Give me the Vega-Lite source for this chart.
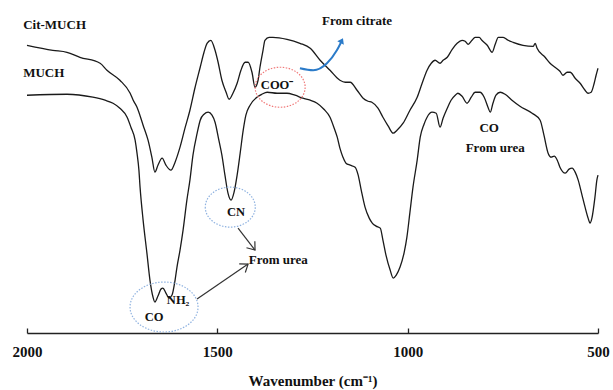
{
  "$schema": "https://vega.github.io/schema/vega-lite/v6.json",
  "width": 571,
  "height": 333,
  "autosize": {"type": "none"},
  "padding": {"left": 27, "top": 0, "right": 15, "bottom": 57},
  "background": "white",
  "config": {
    "view": {"stroke": null},
    "axisX": {
      "domainColor": "#222", "domainWidth": 1.3, "tickColor": "#222", "tickWidth": 1.3, "tickSize": -5,
      "grid": false, "labelFont": "Liberation Serif", "labelFontWeight": "bold", "labelFontSize": 15,
      "labelColor": "#111", "labelPadding": 16, "labelFlush": false,
      "titleFont": "Liberation Serif", "titleFontWeight": "bold", "titleFontSize": 15, "titleColor": "#111", "titlePadding": 14
    }
  },
  "datasets": {
    "spectra": [
      {"s":"Cit-MUCH","wn":2000,"T":86.4},{"s":"Cit-MUCH","wn":1932,"T":84.9},{"s":"Cit-MUCH","wn":1895,"T":84.3},{"s":"Cit-MUCH","wn":1861,"T":82.8},{"s":"Cit-MUCH","wn":1808,"T":81.0},{"s":"Cit-MUCH","wn":1790,"T":78.9},{"s":"Cit-MUCH","wn":1756,"T":75.9},{"s":"Cit-MUCH","wn":1729,"T":72.0},{"s":"Cit-MUCH","wn":1721,"T":69.9},{"s":"Cit-MUCH","wn":1711,"T":67.8},{"s":"Cit-MUCH","wn":1695,"T":62.4},{"s":"Cit-MUCH","wn":1682,"T":57.9},{"s":"Cit-MUCH","wn":1672,"T":52.8},{"s":"Cit-MUCH","wn":1664,"T":48.3},{"s":"Cit-MUCH","wn":1656,"T":50.4},{"s":"Cit-MUCH","wn":1645,"T":52.5},{"s":"Cit-MUCH","wn":1635,"T":50.4},{"s":"Cit-MUCH","wn":1622,"T":48.9},{"s":"Cit-MUCH","wn":1611,"T":51.3},{"s":"Cit-MUCH","wn":1598,"T":55.8},{"s":"Cit-MUCH","wn":1585,"T":61.5},{"s":"Cit-MUCH","wn":1572,"T":66.9},{"s":"Cit-MUCH","wn":1559,"T":73.5},{"s":"Cit-MUCH","wn":1545,"T":79.8},{"s":"Cit-MUCH","wn":1535,"T":84.3},{"s":"Cit-MUCH","wn":1527,"T":87.0},{"s":"Cit-MUCH","wn":1517,"T":87.9},{"s":"Cit-MUCH","wn":1506,"T":84.9},{"s":"Cit-MUCH","wn":1498,"T":81.3},{"s":"Cit-MUCH","wn":1488,"T":75.9},{"s":"Cit-MUCH","wn":1477,"T":72.3},{"s":"Cit-MUCH","wn":1469,"T":70.2},{"s":"Cit-MUCH","wn":1459,"T":72.0},{"s":"Cit-MUCH","wn":1448,"T":75.0},{"s":"Cit-MUCH","wn":1438,"T":78.9},{"s":"Cit-MUCH","wn":1427,"T":81.3},{"s":"Cit-MUCH","wn":1419,"T":81.3},{"s":"Cit-MUCH","wn":1409,"T":78.3},{"s":"Cit-MUCH","wn":1401,"T":73.8},{"s":"Cit-MUCH","wn":1393,"T":75.9},{"s":"Cit-MUCH","wn":1388,"T":79.8},{"s":"Cit-MUCH","wn":1380,"T":84.9},{"s":"Cit-MUCH","wn":1375,"T":87.9},{"s":"Cit-MUCH","wn":1364,"T":88.8},{"s":"Cit-MUCH","wn":1354,"T":88.8},{"s":"Cit-MUCH","wn":1317,"T":88.2},{"s":"Cit-MUCH","wn":1283,"T":87.0},{"s":"Cit-MUCH","wn":1256,"T":85.5},{"s":"Cit-MUCH","wn":1230,"T":81.9},{"s":"Cit-MUCH","wn":1204,"T":78.9},{"s":"Cit-MUCH","wn":1178,"T":75.9},{"s":"Cit-MUCH","wn":1164,"T":75.3},{"s":"Cit-MUCH","wn":1151,"T":75.3},{"s":"Cit-MUCH","wn":1133,"T":72.9},{"s":"Cit-MUCH","wn":1117,"T":70.5},{"s":"Cit-MUCH","wn":1104,"T":69.6},{"s":"Cit-MUCH","wn":1094,"T":69.3},{"s":"Cit-MUCH","wn":1078,"T":67.5},{"s":"Cit-MUCH","wn":1065,"T":64.8},{"s":"Cit-MUCH","wn":1051,"T":62.1},{"s":"Cit-MUCH","wn":1038,"T":60.0},{"s":"Cit-MUCH","wn":1028,"T":60.9},{"s":"Cit-MUCH","wn":1012,"T":63.0},{"s":"Cit-MUCH","wn":994,"T":66.9},{"s":"Cit-MUCH","wn":975,"T":70.8},{"s":"Cit-MUCH","wn":962,"T":75.0},{"s":"Cit-MUCH","wn":949,"T":78.9},{"s":"Cit-MUCH","wn":938,"T":81.0},{"s":"Cit-MUCH","wn":928,"T":81.9},{"s":"Cit-MUCH","wn":915,"T":81.0},{"s":"Cit-MUCH","wn":907,"T":81.9},{"s":"Cit-MUCH","wn":896,"T":82.8},{"s":"Cit-MUCH","wn":883,"T":85.2},{"s":"Cit-MUCH","wn":870,"T":87.0},{"s":"Cit-MUCH","wn":857,"T":87.9},{"s":"Cit-MUCH","wn":849,"T":87.6},{"s":"Cit-MUCH","wn":841,"T":86.7},{"s":"Cit-MUCH","wn":831,"T":87.9},{"s":"Cit-MUCH","wn":823,"T":88.8},{"s":"Cit-MUCH","wn":812,"T":88.8},{"s":"Cit-MUCH","wn":805,"T":87.9},{"s":"Cit-MUCH","wn":791,"T":86.4},{"s":"Cit-MUCH","wn":778,"T":84.3},{"s":"Cit-MUCH","wn":770,"T":86.7},{"s":"Cit-MUCH","wn":762,"T":88.8},{"s":"Cit-MUCH","wn":749,"T":88.8},{"s":"Cit-MUCH","wn":736,"T":87.9},{"s":"Cit-MUCH","wn":723,"T":87.3},{"s":"Cit-MUCH","wn":697,"T":86.4},{"s":"Cit-MUCH","wn":670,"T":86.1},{"s":"Cit-MUCH","wn":665,"T":87.0},{"s":"Cit-MUCH","wn":660,"T":85.5},{"s":"Cit-MUCH","wn":639,"T":82.8},{"s":"Cit-MUCH","wn":626,"T":81.0},{"s":"Cit-MUCH","wn":613,"T":79.8},{"s":"Cit-MUCH","wn":600,"T":78.6},{"s":"Cit-MUCH","wn":592,"T":77.4},{"s":"Cit-MUCH","wn":581,"T":78.3},{"s":"Cit-MUCH","wn":573,"T":78.3},{"s":"Cit-MUCH","wn":560,"T":76.5},{"s":"Cit-MUCH","wn":547,"T":75.0},{"s":"Cit-MUCH","wn":534,"T":72.9},{"s":"Cit-MUCH","wn":526,"T":72.0},{"s":"Cit-MUCH","wn":518,"T":72.3},{"s":"Cit-MUCH","wn":510,"T":75.0},{"s":"Cit-MUCH","wn":505,"T":77.4},{"s":"Cit-MUCH","wn":500,"T":79.5},
      {"s":"MUCH","wn":2000,"T":71.4},{"s":"MUCH","wn":1895,"T":71.7},{"s":"MUCH","wn":1827,"T":70.8},{"s":"MUCH","wn":1795,"T":69.9},{"s":"MUCH","wn":1774,"T":69.0},{"s":"MUCH","wn":1756,"T":67.5},{"s":"MUCH","wn":1737,"T":64.8},{"s":"MUCH","wn":1727,"T":61.8},{"s":"MUCH","wn":1716,"T":57.9},{"s":"MUCH","wn":1711,"T":54.0},{"s":"MUCH","wn":1706,"T":48.9},{"s":"MUCH","wn":1703,"T":43.8},{"s":"MUCH","wn":1695,"T":33.9},{"s":"MUCH","wn":1685,"T":24.0},{"s":"MUCH","wn":1677,"T":15.9},{"s":"MUCH","wn":1669,"T":10.8},{"s":"MUCH","wn":1664,"T":9.3},{"s":"MUCH","wn":1656,"T":11.1},{"s":"MUCH","wn":1648,"T":13.2},{"s":"MUCH","wn":1643,"T":13.5},{"s":"MUCH","wn":1635,"T":12.0},{"s":"MUCH","wn":1627,"T":10.5},{"s":"MUCH","wn":1619,"T":11.4},{"s":"MUCH","wn":1611,"T":15.9},{"s":"MUCH","wn":1606,"T":19.8},{"s":"MUCH","wn":1598,"T":24.9},{"s":"MUCH","wn":1590,"T":30.9},{"s":"MUCH","wn":1580,"T":39.9},{"s":"MUCH","wn":1572,"T":45.9},{"s":"MUCH","wn":1564,"T":53.4},{"s":"MUCH","wn":1553,"T":60.0},{"s":"MUCH","wn":1545,"T":63.9},{"s":"MUCH","wn":1535,"T":65.7},{"s":"MUCH","wn":1524,"T":66.3},{"s":"MUCH","wn":1514,"T":65.4},{"s":"MUCH","wn":1506,"T":63.3},{"s":"MUCH","wn":1496,"T":57.9},{"s":"MUCH","wn":1488,"T":53.4},{"s":"MUCH","wn":1480,"T":47.4},{"s":"MUCH","wn":1472,"T":42.0},{"s":"MUCH","wn":1464,"T":39.9},{"s":"MUCH","wn":1456,"T":42.3},{"s":"MUCH","wn":1448,"T":47.4},{"s":"MUCH","wn":1440,"T":54.0},{"s":"MUCH","wn":1432,"T":60.9},{"s":"MUCH","wn":1425,"T":65.4},{"s":"MUCH","wn":1414,"T":68.4},{"s":"MUCH","wn":1396,"T":70.8},{"s":"MUCH","wn":1383,"T":71.7},{"s":"MUCH","wn":1369,"T":72.3},{"s":"MUCH","wn":1343,"T":72.0},{"s":"MUCH","wn":1317,"T":72.0},{"s":"MUCH","wn":1296,"T":71.4},{"s":"MUCH","wn":1275,"T":70.5},{"s":"MUCH","wn":1256,"T":69.9},{"s":"MUCH","wn":1238,"T":69.0},{"s":"MUCH","wn":1220,"T":67.2},{"s":"MUCH","wn":1204,"T":64.8},{"s":"MUCH","wn":1193,"T":61.5},{"s":"MUCH","wn":1185,"T":58.8},{"s":"MUCH","wn":1178,"T":55.5},{"s":"MUCH","wn":1170,"T":52.8},{"s":"MUCH","wn":1162,"T":51.0},{"s":"MUCH","wn":1151,"T":50.4},{"s":"MUCH","wn":1138,"T":49.8},{"s":"MUCH","wn":1130,"T":47.4},{"s":"MUCH","wn":1122,"T":42.9},{"s":"MUCH","wn":1112,"T":37.8},{"s":"MUCH","wn":1101,"T":34.5},{"s":"MUCH","wn":1093,"T":33.0},{"s":"MUCH","wn":1083,"T":32.1},{"s":"MUCH","wn":1072,"T":31.5},{"s":"MUCH","wn":1065,"T":27.9},{"s":"MUCH","wn":1057,"T":23.4},{"s":"MUCH","wn":1046,"T":18.9},{"s":"MUCH","wn":1038,"T":16.5},{"s":"MUCH","wn":1030,"T":17.4},{"s":"MUCH","wn":1020,"T":19.8},{"s":"MUCH","wn":1009,"T":24.3},{"s":"MUCH","wn":1002,"T":28.8},{"s":"MUCH","wn":994,"T":36.3},{"s":"MUCH","wn":986,"T":43.8},{"s":"MUCH","wn":975,"T":51.9},{"s":"MUCH","wn":967,"T":58.8},{"s":"MUCH","wn":957,"T":62.7},{"s":"MUCH","wn":949,"T":64.8},{"s":"MUCH","wn":936,"T":66.3},{"s":"MUCH","wn":925,"T":66.0},{"s":"MUCH","wn":915,"T":61.8},{"s":"MUCH","wn":907,"T":64.5},{"s":"MUCH","wn":896,"T":67.5},{"s":"MUCH","wn":886,"T":69.9},{"s":"MUCH","wn":875,"T":71.4},{"s":"MUCH","wn":868,"T":72.0},{"s":"MUCH","wn":857,"T":71.1},{"s":"MUCH","wn":844,"T":69.0},{"s":"MUCH","wn":833,"T":70.8},{"s":"MUCH","wn":823,"T":72.3},{"s":"MUCH","wn":810,"T":72.3},{"s":"MUCH","wn":799,"T":70.8},{"s":"MUCH","wn":789,"T":67.8},{"s":"MUCH","wn":783,"T":66.3},{"s":"MUCH","wn":776,"T":69.0},{"s":"MUCH","wn":768,"T":71.4},{"s":"MUCH","wn":757,"T":72.3},{"s":"MUCH","wn":744,"T":71.7},{"s":"MUCH","wn":726,"T":69.9},{"s":"MUCH","wn":705,"T":68.1},{"s":"MUCH","wn":673,"T":66.0},{"s":"MUCH","wn":652,"T":63.9},{"s":"MUCH","wn":642,"T":59.4},{"s":"MUCH","wn":631,"T":54.0},{"s":"MUCH","wn":623,"T":52.8},{"s":"MUCH","wn":615,"T":53.1},{"s":"MUCH","wn":607,"T":51.9},{"s":"MUCH","wn":600,"T":49.8},{"s":"MUCH","wn":586,"T":48.0},{"s":"MUCH","wn":576,"T":49.2},{"s":"MUCH","wn":568,"T":49.5},{"s":"MUCH","wn":560,"T":48.3},{"s":"MUCH","wn":552,"T":45.9},{"s":"MUCH","wn":542,"T":41.4},{"s":"MUCH","wn":534,"T":37.8},{"s":"MUCH","wn":526,"T":34.5},{"s":"MUCH","wn":521,"T":33.0},{"s":"MUCH","wn":516,"T":34.5},{"s":"MUCH","wn":508,"T":40.8},{"s":"MUCH","wn":503,"T":45.9},{"s":"MUCH","wn":500,"T":47.4}
    ]
  },
  "layer": [
    {
      "data": {"name": "spectra"},
      "mark": {"type": "line", "color": "#1a1a1a", "strokeWidth": 1.3, "interpolate": "monotone"},
      "encoding": {
        "x": {"field": "wn", "type": "quantitative", "title": "Wavenumber (cm⁻¹)", "scale": {"domain": [500, 2000], "reverse": true, "nice": false, "zero": false},
              "axis": {"values": [2000, 1500, 1000, 500], "format": "d"}},
        "y": {"field": "T", "type": "quantitative", "scale": {"domain": [0, 100], "nice": false, "zero": false}, "axis": null},
        "detail": {"field": "s"}
      }
    },
    {
      "data": {"values": [
        {"wn": 1335, "T": 73.8}
      ]},
      "mark": {"type": "point", "shape": "M -1 0 A 1 0.8 0 1 0 1 0 A 1 0.8 0 1 0 -1 0 Z", "size": 2500, "filled": false, "stroke": "#f07878", "strokeWidth": 1.2, "strokeDash": [1.5, 1.5], "opacity": 1},
      "encoding": {"x": {"field": "wn", "type": "quantitative", "title": "Wavenumber (cm⁻¹)"}, "y": {"field": "T", "type": "quantitative"}}
    },
    {
      "data": {"values": [
        {"wn": 1466, "T": 37.8}
      ]},
      "mark": {"type": "point", "shape": "M -1 0 A 1 0.8 0 1 0 1 0 A 1 0.8 0 1 0 -1 0 Z", "size": 2500, "filled": false, "stroke": "#8fb2e0", "strokeWidth": 1.2, "strokeDash": [1.5, 1.5], "opacity": 1},
      "encoding": {"x": {"field": "wn", "type": "quantitative", "title": "Wavenumber (cm⁻¹)"}, "y": {"field": "T", "type": "quantitative"}}
    },
    {
      "data": {"values": [
        {"wn": 1640, "T": 7.8}
      ]},
      "mark": {"type": "point", "shape": "M -1 0 A 1 0.735 0 1 0 1 0 A 1 0.735 0 1 0 -1 0 Z", "size": 4624, "filled": false, "stroke": "#8fb2e0", "strokeWidth": 1.2, "strokeDash": [1.5, 1.5], "opacity": 1},
      "encoding": {"x": {"field": "wn", "type": "quantitative", "title": "Wavenumber (cm⁻¹)"}, "y": {"field": "T", "type": "quantitative"}}
    },
    {
      "data": {"values": [
        {"id": "a1", "wn": 1445.6, "T": 31.5}, {"id": "a1", "wn": 1401, "T": 24.9},
        {"id": "a2", "wn": 1553.3, "T": 10.2}, {"id": "a2", "wn": 1419.3, "T": 20.7}
      ]},
      "mark": {"type": "line", "color": "#333", "strokeWidth": 1.2},
      "encoding": {"x": {"field": "wn", "type": "quantitative", "title": "Wavenumber (cm⁻¹)"}, "y": {"field": "T", "type": "quantitative"}, "detail": {"field": "id"}}
    },
    {
      "data": {"values": [
        {"wn": 1401, "T": 24.9, "ang": 52},
        {"wn": 1419.3, "T": 20.7, "ang": 325}
      ]},
      "mark": {"type": "point", "shape": "M -1 -0.75 L 0 0 L -1 0.75", "size": 200, "filled": false, "stroke": "#333", "strokeWidth": 1.2, "opacity": 1},
      "encoding": {"x": {"field": "wn", "type": "quantitative", "title": "Wavenumber (cm⁻¹)"}, "y": {"field": "T", "type": "quantitative"}, "angle": {"field": "ang", "type": "quantitative", "scale": null}}
    },
    {
      "data": {"values": [
        {"wn": 1283, "T": 79.5}, {"wn": 1248, "T": 78.9}, {"wn": 1212, "T": 81.0}, {"wn": 1186, "T": 84.9}, {"wn": 1172, "T": 88.0}
      ]},
      "mark": {"type": "line", "color": "#2b7bc9", "strokeWidth": 2, "interpolate": "monotone"},
      "encoding": {"x": {"field": "wn", "type": "quantitative", "title": "Wavenumber (cm⁻¹)"}, "y": {"field": "T", "type": "quantitative"}}
    },
    {
      "data": {"values": [
        {"wn": 1170, "T": 88.5, "ang": 297}
      ]},
      "mark": {"type": "point", "shape": "M -1 -0.7 L 0 0 L -1 0.7 Z", "size": 110, "filled": true, "color": "#2b7bc9", "opacity": 1},
      "encoding": {"x": {"field": "wn", "type": "quantitative", "title": "Wavenumber (cm⁻¹)"}, "y": {"field": "T", "type": "quantitative"}, "angle": {"field": "ang", "type": "quantitative", "scale": null}}
    },
    {
      "data": {"values": [
        {"t": "Cit-MUCH", "wn": 2010, "T": 92.4},
        {"t": "MUCH", "wn": 2010, "T": 78.0}
      ]},
      "mark": {"type": "text", "align": "left", "baseline": "middle", "font": "Liberation Serif", "fontWeight": "bold", "fontSize": 13, "color": "#111"},
      "encoding": {"x": {"field": "wn", "type": "quantitative", "title": "Wavenumber (cm⁻¹)"}, "y": {"field": "T", "type": "quantitative"}, "text": {"field": "t"}}
    },
    {
      "data": {"values": [
        {"t": "From citrate", "wn": 1133, "T": 93.6, "fs": 13},
        {"t": "COO⁻", "wn": 1343, "T": 74.4, "fs": 12.5},
        {"t": "CO", "wn": 786, "T": 61.5, "fs": 13},
        {"t": "From urea", "wn": 770, "T": 55.5, "fs": 13},
        {"t": "CN", "wn": 1451, "T": 36.3, "fs": 12.5},
        {"t": "From urea", "wn": 1340, "T": 21.9, "fs": 13},
        {"t": "CO", "wn": 1666, "T": 4.8, "fs": 12.5},
        {"t": "NH₂", "wn": 1603, "T": 9.9, "fs": 12.5}
      ]},
      "mark": {"type": "text", "align": "center", "baseline": "middle", "font": "Liberation Serif", "fontWeight": "bold", "color": "#111"},
      "encoding": {"x": {"field": "wn", "type": "quantitative", "title": "Wavenumber (cm⁻¹)"}, "y": {"field": "T", "type": "quantitative"}, "text": {"field": "t"}, "size": {"field": "fs", "type": "quantitative", "scale": null}}
    }
  ]
}
